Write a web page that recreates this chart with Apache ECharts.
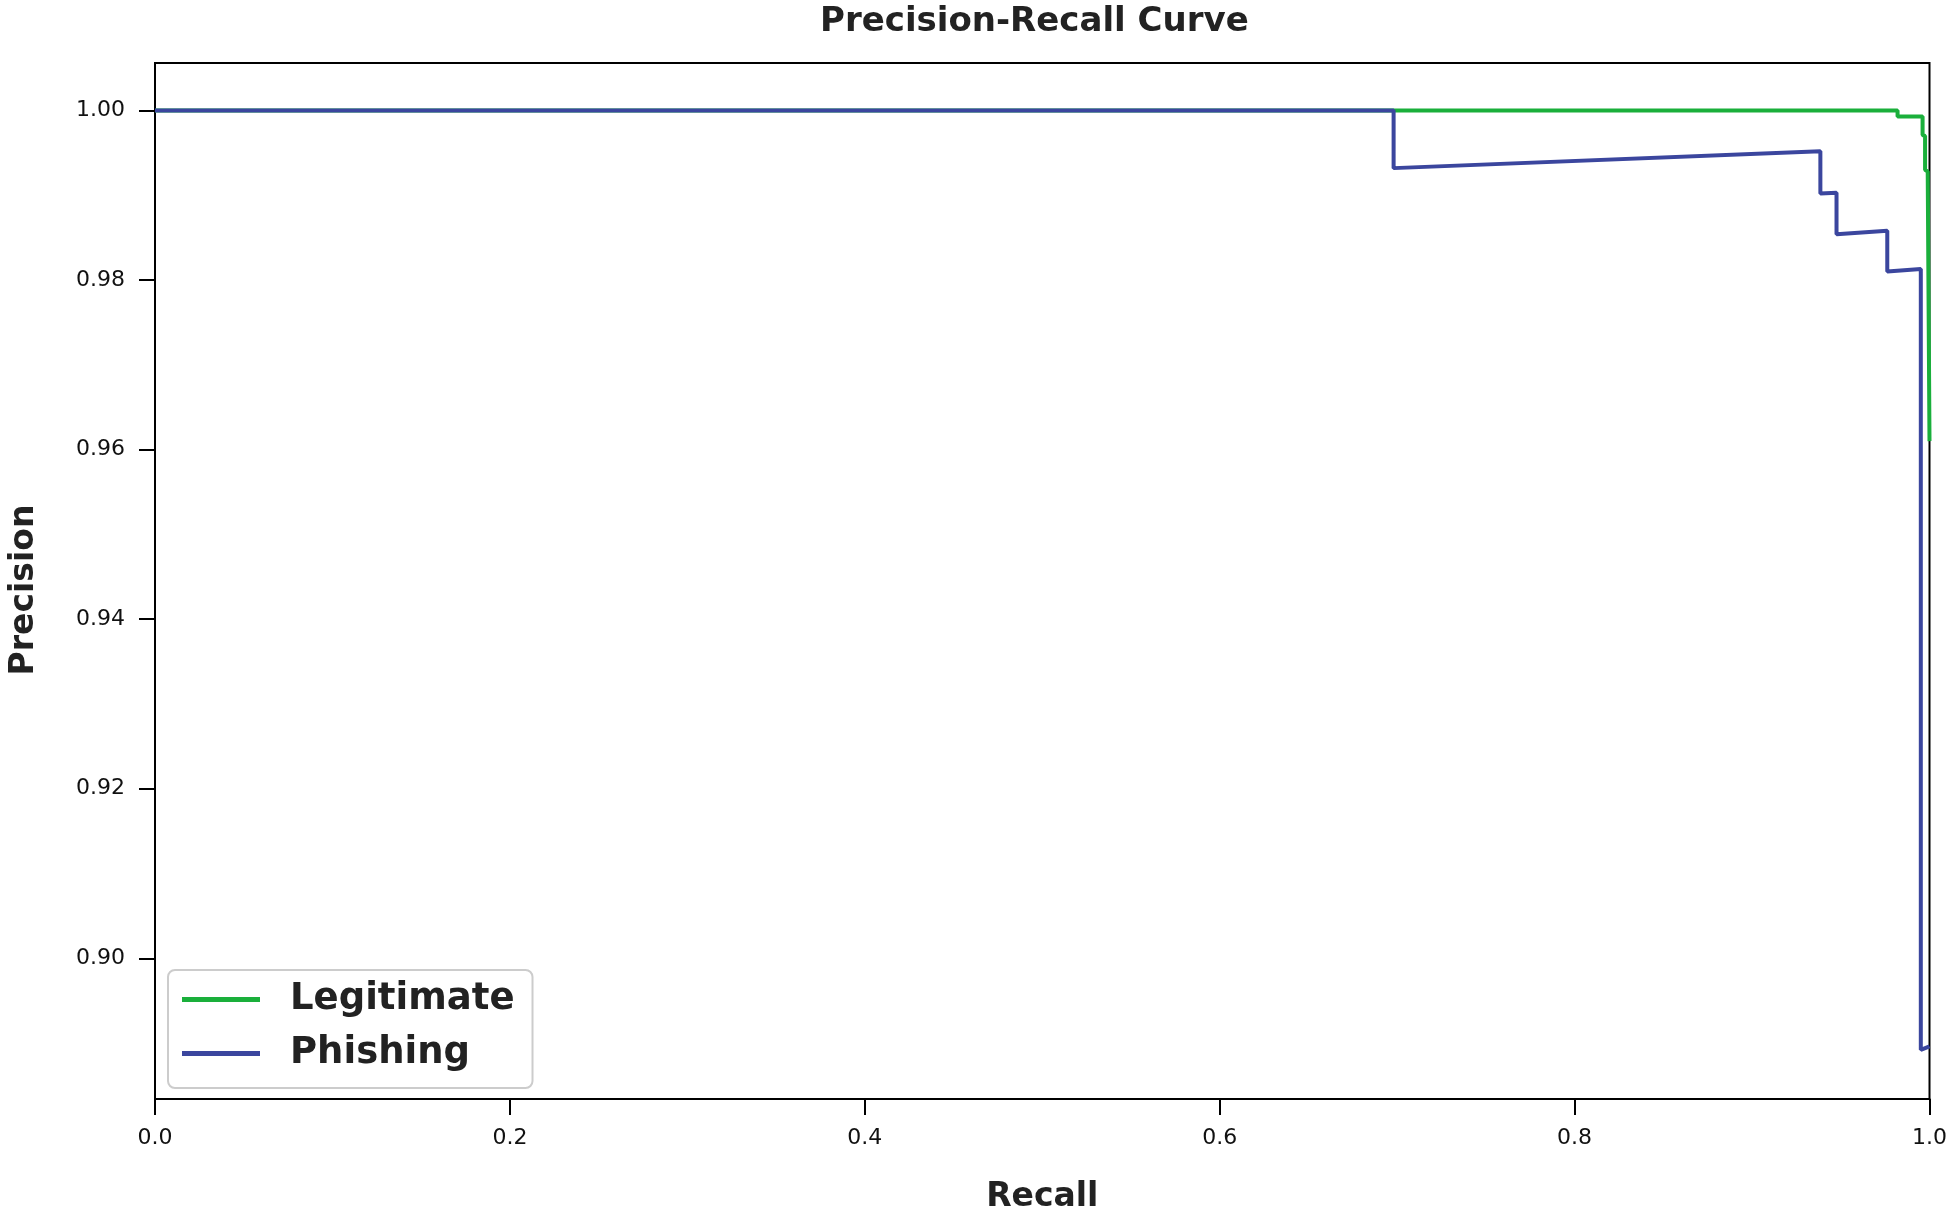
<!DOCTYPE html>
<html>
<head>
<meta charset="utf-8">
<script src="https://cdn.jsdelivr.net/npm/echarts@6/dist/echarts.min.js"></script>
<style>
html,body{margin:0;padding:0;background:#fff;}
#chart{width:1950px;height:1219px;}
</style>
</head>
<body>
<div id="chart"></div>
<script>
const legitRecall    = [0.0, 0.982, 0.982,  0.9961, 0.9961, 0.9975, 0.9975, 0.9990, 0.9990, 1.0];
const legitPrecision = [1.0, 1.0,   0.9993, 0.9993, 0.9971, 0.9970, 0.9930, 0.9928, 0.9925, 0.9610];
const phishRecall    = [0.0, 0.698, 0.698,  0.9385, 0.9385, 0.9476, 0.9476, 0.9762, 0.9762, 0.9951, 0.9951, 1.0];
const phishPrecision = [1.0, 1.0,   0.9932, 0.9952, 0.9902, 0.9903, 0.9854, 0.9858, 0.9810, 0.9813, 0.8892, 0.8896];
const yTicks = [0.90, 0.92, 0.94, 0.96, 0.98, 1.00];
const seriesNames = ['Legitimate', 'Phishing'];
const colors = ['#1aaf3b', '#3b469e'];

const zip = (a, b) => a.map((v, i) => [v, b[i]]);
const FONT = 'DejaVu Sans';

const chart = echarts.init(document.getElementById('chart'), null, {renderer: 'canvas'});
chart.setOption({
  backgroundColor: '#fff',
  animation: false,
  title: {
    text: 'Precision-Recall Curve',
    left: 820, top: 5, padding: 0,
    textStyle: {fontFamily: FONT, fontWeight: 'bold', fontSize: 34, color: '#222'}
  },
  grid: {
    left: 150, right: 20, top: 63, bottom: 115,
    show: true, borderColor: '#000', borderWidth: 2, backgroundColor: 'transparent'
  },
  legend: {
    orient: 'vertical',
    left: 168, top: 970,
    padding: [11, 18, 16, 14],
    itemGap: 17,
    itemWidth: 78, itemHeight: 5,
    icon: 'rect',
    backgroundColor: '#fff',
    borderColor: '#cccccc', borderWidth: 2, borderRadius: 7,
    textStyle: {fontFamily: FONT, fontWeight: 'bold', fontSize: 37, color: '#222', lineHeight: 36, padding: [0, 0, 0, 25]},
    data: seriesNames
  },
  xAxis: {
    type: 'value', min: 0, max: 1, interval: 0.2,
    name: 'Recall', nameLocation: 'middle', nameGap: 82,
    nameTextStyle: {fontFamily: FONT, fontWeight: 'bold', fontSize: 33, color: '#222'},
    axisLine: {show: true, onZero: false, lineStyle: {color: '#000', width: 2}},
    axisTick: {show: true, length: 16, lineStyle: {color: '#000', width: 2}},
    axisLabel: {fontFamily: FONT, fontSize: 22, color: '#111', margin: 28, formatter: v => v.toFixed(1)},
    splitLine: {show: false}
  },
  yAxis: {
    type: 'value', min: 0.8834, max: 1.0056,
    name: 'Precision', nameLocation: 'middle', nameGap: 114, nameRotate: 90,
    nameTextStyle: {fontFamily: FONT, fontWeight: 'bold', fontSize: 33, color: '#222', padding: [0, 18, 0, 0]},
    axisLine: {show: true, onZero: false, lineStyle: {color: '#000', width: 2}},
    axisTick: {show: true, length: 16, customValues: yTicks, lineStyle: {color: '#000', width: 2}},
    axisLabel: {fontFamily: FONT, fontSize: 22, color: '#111', margin: 30, customValues: yTicks, formatter: v => v.toFixed(2)},
    splitLine: {show: false}
  },
  series: [
    {
      name: seriesNames[0], type: 'line', data: zip(legitRecall, legitPrecision),
      showSymbol: false, symbol: 'none', color: colors[0],
      lineStyle: {color: colors[0], width: 4}, z: 2
    },
    {
      name: seriesNames[1], type: 'line', data: zip(phishRecall, phishPrecision),
      showSymbol: false, symbol: 'none', color: colors[1],
      lineStyle: {color: colors[1], width: 4}, z: 3
    }
  ]
});
</script>
</body>
</html>
